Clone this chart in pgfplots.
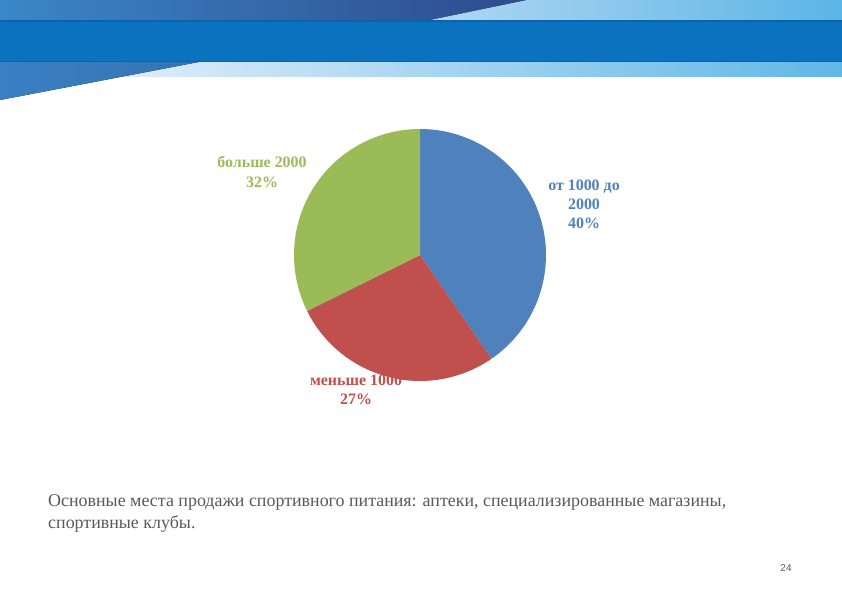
\documentclass[border=0pt]{standalone}
\usepackage{pgfplots}
\usepackage{pgfplotstable}
\pgfplotsset{compat=1.18}
\usepackage{fontspec}
\setmainfont{Liberation Serif}
\newfontfamily\sansf{Liberation Sans}
\definecolor{pieblue}{HTML}{4F81BD}
\definecolor{piered}{HTML}{C0504D}
\definecolor{piegreen}{HTML}{9BBB59}
\definecolor{bandblue}{HTML}{0A72BE}
\definecolor{bandedge}{HTML}{0B64A8}
\definecolor{topleft}{HTML}{3B87C7}
\definecolor{topdark}{HTML}{2E4A8E}
\definecolor{lightA}{HTML}{B2D7F2}
\definecolor{lightB}{HTML}{5BB5E6}
\definecolor{stripA}{HTML}{E2EEF9}
\definecolor{stripB}{HTML}{60B7E7}
\definecolor{triblue}{HTML}{3A80C4}
\definecolor{bodygray}{HTML}{595959}

\pgfplotstableread{
name value
blue 40
red 27
green 32
}\piedata

\begin{document}
\begin{tikzpicture}
\pgfplotstablegetelem{0}{value}\of\piedata \let\vA\pgfplotsretval
\pgfplotstablegetelem{1}{value}\of\piedata \let\vB\pgfplotsretval
\pgfplotstablegetelem{2}{value}\of\piedata \let\vC\pgfplotsretval
\pgfmathsetmacro\tot{\vA+\vB+\vC}
\pgfmathsetmacro\aA{90}
\pgfmathsetmacro\aB{\aA-360*\vA/\tot}
\pgfmathsetmacro\aC{\aB-360*\vB/\tot}
\pgfmathsetmacro\aD{\aC-360*\vC/\tot}
\begin{axis}[x=1bp, y=1bp, y dir=reverse, xmin=0, xmax=842, ymin=0, ymax=595,
  hide axis, clip=false, anchor=origin, at={(0,0)}]
\coordinate (bbA) at (axis cs:0,0);
\coordinate (bbB) at (axis cs:842,595);
% background
\fill[white] (axis cs:0,0) rectangle (axis cs:842,595);
% header
\fill[left color=topleft, right color=topdark] (axis cs:0,0) -- (axis cs:527,0) -- (axis cs:428,20.5) -- (axis cs:0,20.5) -- cycle;
\fill[left color=lightA, right color=lightB] (axis cs:527,0) -- (axis cs:842,0) -- (axis cs:842,20.5) -- (axis cs:428,20.5) -- cycle;
\fill[left color=stripA, right color=stripB] (axis cs:100,62) -- (axis cs:842,62) -- (axis cs:842,76) -- (axis cs:100,76) -- cycle;
\fill[left color=triblue, right color=triblue!90!black] (axis cs:0,60) -- (axis cs:209,60) -- (axis cs:0,100) -- cycle;
\fill[bandblue] (axis cs:0,20) rectangle (axis cs:842,62);
\fill[bandedge] (axis cs:0,20) rectangle (axis cs:842,21.5);
\fill[bandedge] (axis cs:0,60.5) rectangle (axis cs:842,62);
% pie
\addplot[draw=none, fill=pieblue, domain=\aA:\aB, samples=120, variable=\t]
  ({420+126*cos(t)}, {255-126*sin(t)}) -- (axis cs:420,255) -- cycle;
\addplot[draw=none, fill=piered, domain=\aB:\aC, samples=90, variable=\t]
  ({420+126*cos(t)}, {255-126*sin(t)}) -- (axis cs:420,255) -- cycle;
\addplot[draw=none, fill=piegreen, domain=\aC:\aD, samples=100, variable=\t]
  ({420+126*cos(t)}, {255-126*sin(t)}) -- (axis cs:420,255) -- cycle;
% labels
\node[align=center, text=piegreen, font=\fontsize{16}{19.5}\selectfont\bfseries] at (axis cs:262,172) {больше 2000\\32\%};
\node[align=center, text=pieblue, font=\fontsize{16}{19}\selectfont\bfseries] at (axis cs:584,204) {от 1000 до\\2000\\40\%};
\node[align=center, text=piered, font=\fontsize{16}{19.5}\selectfont\bfseries] at (axis cs:356,390) {меньше 1000\\27\%};
% body text
\node[anchor=base west, inner sep=0pt, text=bodygray, font=\fontsize{18}{22}\selectfont] at (axis cs:48,506) {Основные места продажи спортивного питания: аптеки, специализированные магазины,};
\node[anchor=base west, inner sep=0pt, text=bodygray, font=\fontsize{18}{22}\selectfont] at (axis cs:48,528) {спортивные клубы.};
\node[anchor=base, inner sep=0pt, text=bodygray, font=\sansf\fontsize{10}{12}\selectfont] at (axis cs:786,571) {24};
\end{axis}
\pgfresetboundingbox
\useasboundingbox (bbA) rectangle (bbB);
\end{tikzpicture}
\end{document}
